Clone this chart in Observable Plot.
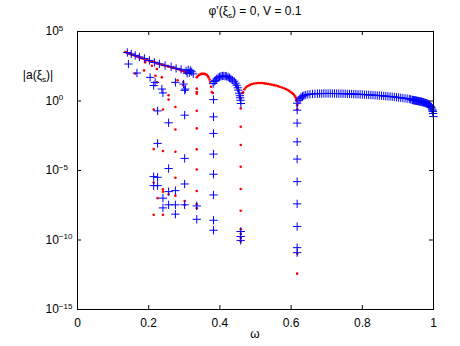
<!DOCTYPE html>
<html>
<head>
<meta charset="utf-8">
<script src="https://cdn.jsdelivr.net/npm/d3@7"></script>
<script src="https://cdn.jsdelivr.net/npm/@observablehq/plot@0.6"></script>
<style>
  html, body { margin: 0; padding: 0; background: #fff; }
  #chart svg { display: block; }
</style>
</head>
<body>
<div id="chart"></div>
<script>
// ---- data: [omega, log10 |a(xi_s)|] ----
const titleMain = ["φ'(ξ", "s", ") = 0, V = 0.1"];
const yLabelParts = ["|a(ξ", "s", ")|"];
const xLabel = "ω";
const xTicks = [0, 0.2, 0.4, 0.6, 0.8, 1];
const yTicks = [1e5, 1e0, 1e-5, 1e-10, 1e-15];

// red dots
const redEnvelope = [[0.134,3.53],[0.138,3.48],[0.143,3.44],[0.147,3.39],[0.151,3.35],[0.155,3.31],[0.160,3.28],[0.164,3.24],[0.168,3.21],[0.172,3.16],[0.176,3.12],[0.180,3.08],[0.185,3.04],[0.190,2.99],[0.196,2.94],[0.201,2.90],[0.207,2.85],[0.212,2.81],[0.218,2.76],[0.224,2.71],[0.230,2.67],[0.235,2.62],[0.241,2.58],[0.246,2.55],[0.252,2.51],[0.257,2.46],[0.263,2.42],[0.269,2.38],[0.275,2.35],[0.280,2.30],[0.286,2.26],[0.290,2.22],[0.294,2.17],[0.299,2.12],[0.303,2.06]];
const redScatter = [[0.162,1.97],[0.187,2.20],[0.190,2.78],[0.209,2.54],[0.223,2.30],[0.219,1.82],[0.237,1.70],[0.223,1.34],[0.281,1.49],[0.297,1.37],[0.297,1.13],[0.335,0.89],[0.335,0.65],[0.335,0.53],[0.256,0.41],[0.256,0.10]];
const redArchA = [[0.335,1.70],[0.338,1.80],[0.342,1.88],[0.346,1.93],[0.349,1.95],[0.352,1.96],[0.356,1.95],[0.359,1.93],[0.363,1.88],[0.366,1.80],[0.368,1.70],[0.371,1.55],[0.373,1.38],[0.375,1.02],[0.377,0.65],[0.380,0.58]];
const redArchB = [[0.463,0.56],[0.465,0.63],[0.469,0.85],[0.473,0.97],[0.477,1.06],[0.481,1.12],[0.485,1.17],[0.490,1.22],[0.496,1.26],[0.502,1.28],[0.507,1.29],[0.513,1.29],[0.518,1.29],[0.524,1.27],[0.529,1.25],[0.535,1.23],[0.541,1.20],[0.546,1.17],[0.552,1.14],[0.557,1.11],[0.563,1.07],[0.568,1.02],[0.574,0.97],[0.580,0.92],[0.585,0.86],[0.590,0.79],[0.594,0.73],[0.598,0.66],[0.602,0.59],[0.605,0.52],[0.608,0.45],[0.611,0.34],[0.613,0.23],[0.615,0.08],[0.616,-0.02]];
const redColumns = [
  [0.617,-0.30],[0.617,-0.59],[0.617,-10.99],[0.617,-12.42],
  [0.4585,0.18],[0.4585,-0.54],[0.4585,-1.86],[0.4585,-3.17],[0.4585,-4.73],[0.4585,-6.33],[0.4585,-7.90],[0.4585,-9.22],[0.4585,-9.55],[0.4585,-9.86],[0.4585,-10.1],
  [0.335,-0.71],[0.335,-1.97],[0.335,-3.48],[0.335,-4.93],[0.335,-6.47],[0.335,-7.42],[0.335,-7.71],
  [0.301,-7.19],[0.301,-7.47],
  [0.275,-0.43],[0.275,-2.05],[0.275,-3.65],[0.275,-5.52],[0.275,-6.81],
  [0.256,-6.71],
  [0.240,-0.61],[0.240,-3.60],[0.240,-6.35],[0.240,-6.52],[0.240,-8.19],
  [0.225,-6.99],
  [0.214,-0.61],[0.214,-3.46],[0.214,-5.87],[0.214,-8.19]
];

// blue pluses
const blueEnvelope = [[0.140,3.49],[0.151,3.39],[0.162,3.28],[0.174,3.17],[0.188,3.06],[0.202,2.92],[0.216,2.78],[0.230,2.67],[0.246,2.56],[0.263,2.46],[0.277,2.35],[0.291,2.28],[0.305,2.17],[0.311,2.24],[0.317,2.20],[0.321,2.10],[0.325,1.95],[0.314,2.03],[0.308,1.99]];
const blueScatter = [[0.143,2.66],[0.167,2.01],[0.204,1.70],[0.218,1.34],[0.214,1.11],[0.237,0.86],[0.240,0.58],[0.275,1.34],[0.298,1.22],[0.303,0.86],[0.301,0.77]];
const blueArchA = [[0.381,1.25],[0.384,1.40],[0.387,1.49],[0.391,1.59],[0.395,1.67],[0.399,1.73],[0.403,1.78],[0.407,1.80],[0.411,1.80],[0.415,1.79],[0.419,1.77],[0.423,1.72],[0.427,1.66],[0.431,1.59],[0.435,1.51],[0.440,1.42],[0.444,1.28],[0.447,1.13],[0.450,0.95],[0.452,0.78],[0.454,0.56],[0.456,0.38],[0.457,0.23],[0.458,0.05],[0.459,-0.18]];
const blueArchB = [[0.622,0.05],[0.625,0.17],[0.628,0.27],[0.632,0.34],[0.636,0.39],[0.641,0.43],[0.647,0.47],[0.653,0.49],[0.660,0.51],[0.667,0.52],[0.674,0.53],[0.680,0.53],[0.686,0.535],[0.692,0.54],[0.698,0.54],[0.704,0.54],[0.710,0.54],[0.716,0.54],[0.722,0.54],[0.728,0.535],[0.734,0.53],[0.740,0.53],[0.746,0.525],[0.752,0.52],[0.758,0.515],[0.764,0.51],[0.770,0.505],[0.776,0.50],[0.782,0.49],[0.788,0.48],[0.794,0.475],[0.800,0.47],[0.806,0.46],[0.812,0.45],[0.818,0.44],[0.824,0.43],[0.830,0.42],[0.836,0.41],[0.842,0.40],[0.848,0.39],[0.854,0.38],[0.860,0.365],[0.866,0.35],[0.872,0.335],[0.878,0.32],[0.884,0.305],[0.890,0.29],[0.896,0.27],[0.902,0.25],[0.908,0.23],[0.914,0.21],[0.920,0.19],[0.926,0.17],[0.932,0.145],[0.936,0.12],[0.940,0.08],[0.942,0.07],[0.944,0.06],[0.946,0.05],[0.948,0.04],[0.950,0.03],[0.952,0.02],[0.954,0.01],[0.956,0.0],[0.958,-0.01],[0.960,-0.02],[0.962,-0.03],[0.964,-0.04],[0.966,-0.05],[0.968,-0.07],[0.970,-0.08],[0.972,-0.10],[0.974,-0.11],[0.976,-0.13],[0.978,-0.15],[0.980,-0.17],[0.982,-0.19],[0.984,-0.21],[0.986,-0.24],[0.988,-0.28],[0.990,-0.32],[0.992,-0.38],[0.994,-0.46],[0.996,-0.58],[0.997,-0.66],[0.998,-0.76],[0.999,-0.90],[1.000,-1.12]];
const blueColumns = [
  [0.382,0.10],[0.382,-1.14],[0.382,-2.33],[0.382,-3.82],[0.382,-5.27],[0.382,-6.76],[0.382,-8.58],[0.382,-9.30],
  [0.4585,-9.39],[0.4585,-9.75],[0.4585,-10.03],
  [0.617,-0.16],[0.617,-0.66],[0.617,-1.59],[0.617,-2.94],[0.617,-4.18],[0.617,-5.80],[0.617,-7.40],[0.617,-9.03],[0.617,-10.55],[0.617,-10.91],
  [0.335,-7.55],[0.335,-8.51],
  [0.301,-1.02],[0.301,-4.13],[0.301,-5.97],[0.301,-7.47],
  [0.275,-6.45],[0.275,-7.47],[0.275,-8.14],
  [0.256,-1.57],[0.256,-4.86],[0.256,-6.52],[0.256,-7.47],
  [0.240,-6.99],[0.240,-7.69],
  [0.225,-0.71],[0.225,-3.05],[0.225,-5.49],[0.225,-6.09],
  [0.214,-5.44],[0.214,-6.09]
];

// ---- build tables for the library ----
const toRows = (pairs) => pairs.map(([omega, e]) => ({omega, a: 10 ** e}));
const redRows = toRows([...redEnvelope, ...redScatter, ...redArchA, ...redArchB, ...redColumns]);
const blueRows = toRows([...blueEnvelope, ...blueScatter, ...blueArchA, ...blueArchB, ...blueColumns]);

const W = 460, H = 346, mL = 77, mR = 27, mT = 31, mB = 37;
const innerW = W - mL - mR, innerH = H - mT - mB, tick = 4;
const font = "'Liberation Sans', Arial, Helvetica, sans-serif";

const chart = Plot.plot({
  width: W, height: H,
  marginLeft: mL, marginRight: mR, marginTop: mT, marginBottom: mB,
  style: {fontFamily: font, fontSize: "12px", background: "white", color: "black", overflow: "visible"},
  x: {domain: [0, 1]},
  y: {type: "log", domain: [1e-15, 1e5]},
  marks: [
    Plot.dot(redRows, {x: "omega", y: "a", r: 1.3, fill: "#ff0000", stroke: "none"}),
    Plot.dot(blueRows, {x: "omega", y: "a", symbol: "plus", r: 2.8, stroke: "#0000ff", strokeWidth: 1}),
    Plot.tickX(xTicks, {x: d => d, insetTop: innerH - tick, stroke: "black"}),
    Plot.tickX(xTicks, {x: d => d, insetBottom: innerH - tick, stroke: "black"}),
    Plot.tickY(yTicks, {y: d => d, insetRight: innerW - tick, stroke: "black"}),
    Plot.tickY(yTicks, {y: d => d, insetLeft: innerW - tick, stroke: "black"}),
    Plot.axisX({ticks: xTicks, tickSize: 0, tickPadding: 9, tickFormat: d => String(d), label: null, fontSize: 12}),
    Plot.axisY({ticks: yTicks, tickSize: 0, tickPadding: 32, textAnchor: "start", tickFormat: d => String(Math.round(Math.log10(d))), label: null, fontSize: 12}),
    Plot.frame({stroke: "black", strokeWidth: 1})
  ]
});

const svg = d3.select(chart);
// superscript exponents on the y tick labels
svg.selectAll('g[aria-label="y-axis tick label"] text').each(function() {
  const exp = this.textContent.replace("-", "\u2212");
  const t = d3.select(this);
  t.text(null);
  t.append("tspan").text("10");
  t.append("tspan").attr("dy", "-0.55em").attr("font-size", "8px").text(exp);
});

// title with subscript
const title = svg.append("text")
  .attr("x", mL + innerW / 2).attr("y", 15)
  .attr("text-anchor", "middle")
  .attr("font-family", font).attr("font-size", "12px").attr("fill", "black");
title.append("tspan").text(titleMain[0]);
title.append("tspan").attr("dy", 3).attr("font-size", "8px").text(titleMain[1]);
title.append("tspan").attr("dy", -3).attr("font-size", "12px").text(titleMain[2]);

// y label (horizontal, MATLAB style)
const yl = svg.append("text")
  .attr("x", 38).attr("y", 79)
  .attr("text-anchor", "middle")
  .attr("font-family", font).attr("font-size", "12px").attr("fill", "black");
yl.append("tspan").text(yLabelParts[0]);
yl.append("tspan").attr("dy", 3).attr("font-size", "8px").text(yLabelParts[1]);
yl.append("tspan").attr("dy", -3).attr("font-size", "12px").text(yLabelParts[2]);

// x label
svg.append("text")
  .attr("x", mL + innerW / 2).attr("y", 338)
  .attr("text-anchor", "middle")
  .attr("font-family", font).attr("font-size", "12px").attr("fill", "black")
  .text(xLabel);

document.getElementById("chart").appendChild(chart);
</script>
</body>
</html>
